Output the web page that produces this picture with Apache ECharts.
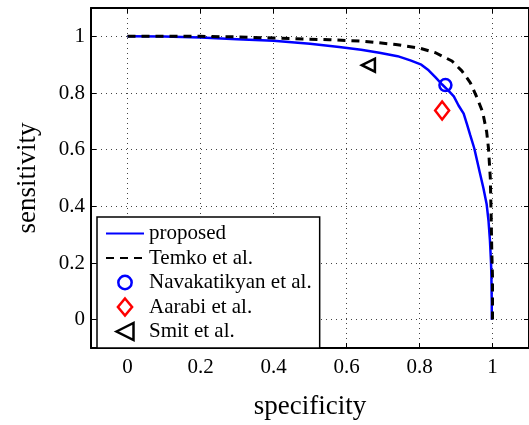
<!DOCTYPE html>
<html>
<head>
<meta charset="utf-8">
<script src="https://cdn.jsdelivr.net/npm/echarts@6/dist/echarts.min.js"></script>
<style>html,body{margin:0;padding:0;background:#fff;}#c{width:529px;height:425px;}</style>
</head>
<body>
<div id="c"></div>
<script>
// proposed ROC curve (specificity, sensitivity)
var proposedSpec = [0, 0.1, 0.2, 0.3, 0.4, 0.5, 0.58, 0.64, 0.69, 0.74, 0.775, 0.805, 0.825, 0.844, 0.862, 0.878, 0.894, 0.907, 0.921, 0.93, 0.939, 0.95, 0.958, 0.965, 0.975, 0.984, 0.989, 0.993, 0.996, 0.997, 0.998, 0.998];
var proposedSens = [1, 0.999, 0.996, 0.99, 0.984, 0.974, 0.962, 0.953, 0.942, 0.93, 0.915, 0.9, 0.88, 0.855, 0.83, 0.81, 0.788, 0.756, 0.727, 0.69, 0.651, 0.605, 0.56, 0.52, 0.465, 0.407, 0.35, 0.28, 0.2, 0.15, 0.06, 0.0];
// Temko et al. curve
var temkoSpec = [0, 0.2, 0.3, 0.4, 0.5, 0.553, 0.644, 0.735, 0.798, 0.844, 0.889, 0.916, 0.939, 0.957, 0.973, 0.984, 0.989, 0.994, 0.996, 0.998, 1.0, 1.0];
var temkoSens = [1, 1.0, 0.998, 0.994, 0.99, 0.988, 0.983, 0.971, 0.959, 0.942, 0.913, 0.878, 0.837, 0.785, 0.733, 0.663, 0.605, 0.5, 0.384, 0.244, 0.15, 0.0];
// single operating points
var navakatikyan = [0.871, 0.828];
var aarabi = [0.862, 0.738];
var smit = [0.66, 0.898];
var tickValues = [0, 0.2, 0.4, 0.6, 0.8, 1];
var tickLabels = ['0', '0.2', '0.4', '0.6', '0.8', '1'];
var seriesNames = ['proposed', 'Temko et al.', 'Navakatikyan et al.', 'Aarabi et al.', 'Smit et al.'];

function zip(a, b) { return a.map(function (v, i) { return [v, b[i]]; }); }
var FONT = 'Liberation Serif';

function fmt(v) {
  var i = tickValues.findIndex(function (t) { return Math.abs(t - v) < 1e-9; });
  return i >= 0 ? tickLabels[i] : '';
}

function mkAxis(pos, isMain, name, margin) {
  return {
    type: 'value', min: -0.1, max: 1.1, position: pos,
    name: name || '', nameLocation: 'middle',
    nameTextStyle: { fontFamily: FONT, fontSize: 27, color: '#000' },
    axisLine: { show: true, onZero: false, lineStyle: { color: '#000', width: 2 } },
    axisTick: { show: true, inside: true, length: 5, customValues: tickValues, lineStyle: { color: '#000', width: 1 } },
    axisLabel: { show: isMain, customValues: tickValues, formatter: fmt, fontFamily: FONT, fontSize: 21, color: '#000', margin: margin || 7 },
    splitLine: { show: isMain, lineStyle: { color: '#444', width: 1, type: [1, 4] } }
  };
}

var xMain = mkAxis('bottom', true, 'specificity', 9); xMain.nameGap = 45;
var yMain = mkAxis('left', true, 'sensitivity', 6); yMain.nameGap = 50;

var chart = echarts.init(document.getElementById('c'), null, { renderer: 'canvas' });
chart.setOption({
  animation: false,
  backgroundColor: '#fff',
  grid: { left: 91, top: 8, width: 440, height: 344, containLabel: false },
  xAxis: [xMain, mkAxis('top', false)],
  yAxis: [yMain, mkAxis('right', false)],
  legend: {
    orient: 'vertical', left: 97, top: 217,
    padding: [6, 8, 6, 8], itemGap: 3.5, itemWidth: 38, itemHeight: 17,
    backgroundColor: '#fff', borderColor: '#000', borderWidth: 1.5, borderRadius: 0,
    textStyle: { fontFamily: FONT, fontSize: 21, color: '#000', lineHeight: 21 },
    data: [
      { name: seriesNames[0], itemStyle: { opacity: 0 } },
      { name: seriesNames[1], itemStyle: { opacity: 0 } },
      { name: seriesNames[2], icon: 'path://M0,0L0,0M7,1.5A5.5,5.5,0,1,1,6.99,1.5ZM14,14L14,14', itemStyle: { color: 'rgba(0,0,0,0)', borderColor: '#0000ff', borderWidth: 2.5, opacity: 1 } },
      { name: seriesNames[3], icon: 'path://M7.5,0L15,9L7.5,18L0,9Z', itemStyle: { color: 'rgba(0,0,0,0)', borderColor: '#ff0000', borderWidth: 2.5, opacity: 1 } },
      { name: seriesNames[4], icon: 'path://M0,6.5L13,0L13,13Z', itemStyle: { color: 'rgba(0,0,0,0)', borderColor: '#000', borderWidth: 2.5, opacity: 1 } }
    ]
  },
  series: [
    { name: seriesNames[0], type: 'line', data: zip(proposedSpec, proposedSens), showSymbol: false, symbol: 'none',
      lineStyle: { color: '#0000ff', width: 2.5 }, itemStyle: { color: '#0000ff' }, z: 2 },
    { name: seriesNames[1], type: 'line', data: zip(temkoSpec, temkoSens), showSymbol: false, symbol: 'none',
      lineStyle: { color: '#000', width: 3, type: [8, 6] }, itemStyle: { color: '#000' }, z: 3 },
    { name: seriesNames[2], type: 'scatter', data: [navakatikyan], symbol: 'circle', symbolSize: 12,
      itemStyle: { color: 'rgba(0,0,0,0)', borderColor: '#0000ff', borderWidth: 2.5, opacity: 1 }, z: 4 },
    { name: seriesNames[3], type: 'scatter', data: [aarabi], symbol: 'path://M7,0L14,9L7,18L0,9Z', symbolSize: [14, 18],
      itemStyle: { color: 'rgba(0,0,0,0)', borderColor: '#ff0000', borderWidth: 2.5, opacity: 1 }, z: 4 },
    { name: seriesNames[4], type: 'scatter', data: [smit], symbol: 'path://M0,6.5L13,0L13,13Z', symbolSize: [13, 13],
      itemStyle: { color: 'rgba(0,0,0,0)', borderColor: '#000', borderWidth: 2.5, opacity: 1 }, z: 4 }
  ]
});
</script>
</body>
</html>
